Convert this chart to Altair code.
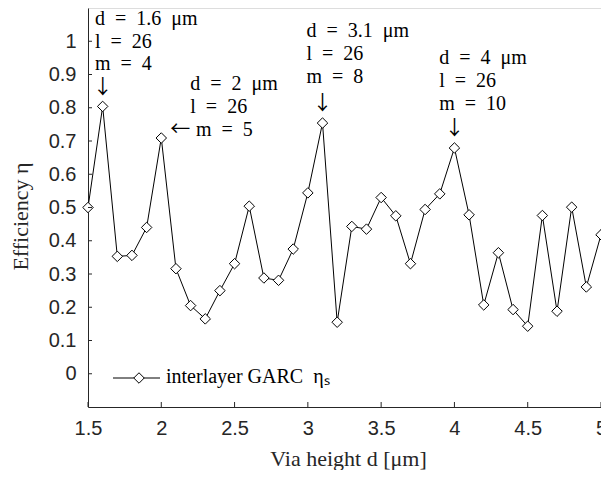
import altair as alt
import pandas as pd

# Data
via_height = [1.5, 1.6, 1.7, 1.8, 1.9, 2.0, 2.1, 2.2, 2.3, 2.4, 2.5, 2.6,
              2.7, 2.8, 2.9, 3.0, 3.1, 3.2, 3.3, 3.4, 3.5, 3.6, 3.7, 3.8,
              3.9, 4.0, 4.1, 4.2, 4.3, 4.4, 4.5, 4.6, 4.7, 4.8, 4.9, 5.0]
efficiency = [0.500, 0.804, 0.353, 0.356, 0.440, 0.709, 0.316, 0.205, 0.165, 0.250, 0.331, 0.504,
              0.288, 0.281, 0.375, 0.544, 0.754, 0.155, 0.443, 0.435, 0.530, 0.475, 0.331, 0.494,
              0.541, 0.679, 0.478, 0.207, 0.364, 0.193, 0.143, 0.476, 0.188, 0.501, 0.261, 0.418]

x_ticks = [1.5, 2, 2.5, 3, 3.5, 4, 4.5, 5]
y_ticks = [0, 0.1, 0.2, 0.3, 0.4, 0.5, 0.6, 0.7, 0.8, 0.9, 1]

ES = "\u2002"  # en space, mimics LaTeX math spacing
ann_x = [1.547, 1.547, 1.547, 2.198, 2.198, 2.236, 2.990, 2.990, 2.990, 3.896, 3.896, 3.896]
ann_y = [1.066, 0.998, 0.931, 0.872, 0.802, 0.733, 1.031, 0.961, 0.891, 0.950, 0.881, 0.812]
ann_text = [f"d{ES}={ES}1.6{ES}μm", f"l{ES}={ES}26", f"m{ES}={ES}4",
            f"d{ES}={ES}2{ES}μm", f"l{ES}={ES}26", f"m{ES}={ES}5",
            f"d{ES}={ES}3.1{ES}μm", f"l{ES}={ES}26", f"m{ES}={ES}8",
            f"d{ES}={ES}4{ES}μm", f"l{ES}={ES}26", f"m{ES}={ES}10"]

arrow_x = [1.6, 2.13, 3.1, 4.0]
arrow_y = [0.858, 0.734, 0.812, 0.737]
arrow_t = ["↓", "←", "↓", "↓"]

legend_label = f"interlayer GARC{ES}ηₛ"

df = pd.DataFrame({"d": via_height, "eta": efficiency})
ann = pd.DataFrame({"x": ann_x, "y": ann_y, "t": ann_text})
arr = pd.DataFrame({"x": arrow_x, "y": arrow_y, "t": arrow_t})
xt = pd.DataFrame({"v": x_ticks})
yt = pd.DataFrame({"v": y_ticks})

W, H = 513, 399
AX = "#262626"
SERIF = "Liberation Serif"
SANS = "Liberation Sans"

xs = alt.Scale(domain=[1.5, 5], nice=False, zero=False)
ys = alt.Scale(domain=[-0.1, 1.1], nice=False, zero=False)

x_axis = alt.Axis(values=x_ticks, format="~g", ticks=False, grid=False,
                  domainColor=AX, domainWidth=1, labelColor=AX, labelFont=SANS,
                  labelFontSize=20, labelPadding=11, labelFlush=False,
                  labelOverlap=False, labelBound=False,
                  title="Via height d [μm]", titleFont=SERIF, titleFontSize=22,
                  titleFontWeight="normal", titleColor=AX,
                  titleX=260, titleY=51, titleAlign="center", titleBaseline="middle")
y_axis = alt.Axis(values=y_ticks, format="~g", ticks=False, grid=False,
                  domainColor=AX, domainWidth=1, labelColor=AX, labelFont=SANS,
                  labelFontSize=20, labelPadding=12, labelFlush=False,
                  labelOverlap=False, labelBound=False, labelSeparation=0,
                  title="Efficiency η", titleFont=SERIF, titleFontSize=22,
                  titleFontWeight="normal", titleColor=AX,
                  titleX=-68, titleY=208, titleAngle=270, titleAlign="center",
                  titleBaseline="middle")


def X(field):
    return alt.X(field, scale=xs, axis=x_axis, title="Via height d [μm]")


def Y(field):
    return alt.Y(field, scale=ys, axis=y_axis, title="Efficiency η")


line = alt.Chart(df).mark_line(color="black", strokeWidth=1).encode(
    x=X("d:Q"), y=Y("eta:Q"),
)
pts = alt.Chart(df).mark_point(shape="diamond", size=110, fill="white", stroke="black",
                               strokeWidth=1, opacity=1, fillOpacity=1).encode(
    x=X("d:Q"), y=Y("eta:Q")
)

ytick_marks = alt.Chart(yt).mark_rule(color=AX, strokeWidth=1).encode(
    y=Y("v:Q"), x=alt.value(0), x2=alt.value(4)
)
xtick_marks = alt.Chart(xt).mark_rule(color=AX, strokeWidth=1).encode(
    x=X("v:Q"), y=alt.value(H), y2=alt.value(H - 5)
)

ann_marks = alt.Chart(ann).mark_text(align="left", baseline="middle", font=SERIF,
                                     fontSize=20, color="black").encode(
    x=X("x:Q"), y=Y("y:Q"), text="t:N"
)
arr_marks = alt.Chart(arr).mark_text(align="center", baseline="middle",
                                     font="Noto Sans CJK JP",
                                     fontSize=20, color="black").encode(
    x=X("x:Q"), y=Y("y:Q"), text="t:N"
)

leg_df = pd.DataFrame({"t": [legend_label]})
leg_line = alt.Chart(leg_df).mark_rule(color="black", strokeWidth=1).encode(
    x=alt.value(25), x2=alt.value(72), y=alt.value(370)
)
leg_pt = alt.Chart(leg_df).mark_point(shape="diamond", size=110, fill="white", stroke="black",
                                      strokeWidth=1, opacity=1, fillOpacity=1).encode(
    x=alt.value(51), y=alt.value(370)
)
leg_txt = alt.Chart(leg_df).mark_text(align="left", baseline="middle", font=SERIF,
                                      fontSize=20, color="black").encode(
    x=alt.value(78), y=alt.value(369), text="t:N"
)

chart = alt.layer(line, pts, ytick_marks, xtick_marks, ann_marks, arr_marks,
                  leg_line, leg_pt, leg_txt).properties(
    width=W, height=H,
    autosize=alt.AutoSizeParams(type="none"),
    padding={"left": 80, "top": 0, "right": 0, "bottom": 63},
).configure_view(stroke=None).configure_axis(
    labelOverlap=False
).configure(background="white")

chart.save("out.html", embed_options={"renderer": "svg", "actions": False})
